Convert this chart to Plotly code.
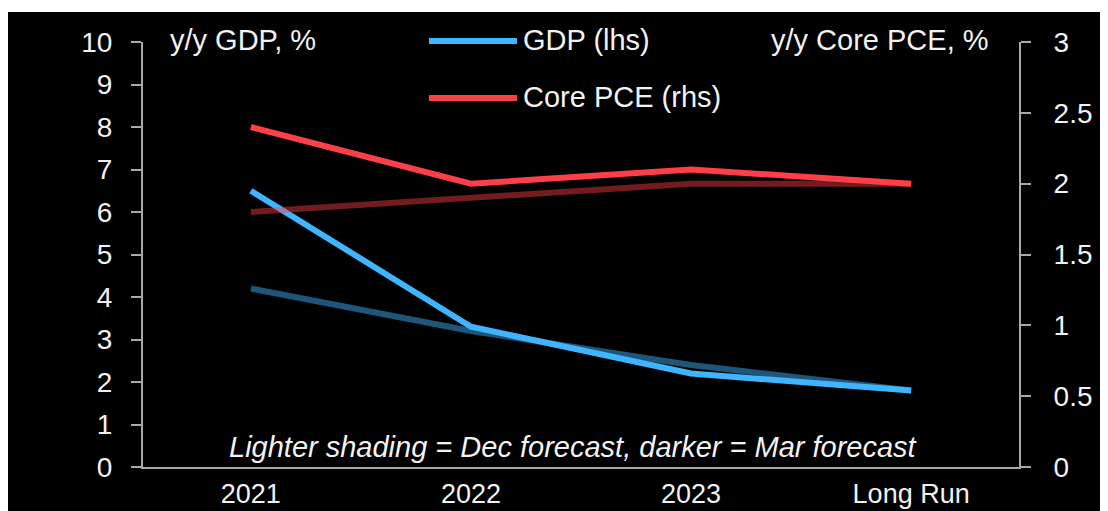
import plotly.graph_objects as go

categories = ["2021", "2022", "2023", "Long Run"]
gdp_mar = [6.5, 3.3, 2.2, 1.8]
gdp_dec = [4.2, 3.2, 2.4, 1.8]
pce_mar = [2.4, 2.0, 2.1, 2.0]
pce_dec = [1.8, 1.9, 2.0, 2.0]

W, H = 1108, 511
OFF = 8  # page body margin: figure starts at (8, 8) in the screenshot
L, R, T, B = 135, 97, 34, 52
PW, PH = W - L - R, H - T - B

def px(xp):
    # screenshot x pixel -> paper x
    return (xp - OFF - L) / PW

def py(yp):
    # screenshot y pixel -> paper y
    return (H - B - (yp - OFF)) / PH

BLUE = "#3fb4ff"
BLUE_DIM = "rgba(63,180,255,0.48)"
RED = "#ff3f47"
RED_DIM = "rgba(255,63,71,0.45)"
FONT = "Liberation Sans, Arial, sans-serif"
TXT = "#f2f2f2"
AX = "#a8a8a8"

fig = go.Figure()
fig.add_trace(go.Scatter(x=categories, y=gdp_dec, mode="lines",
                         line=dict(color=BLUE_DIM, width=6), name="GDP Dec", yaxis="y"))
fig.add_trace(go.Scatter(x=categories, y=gdp_mar, mode="lines",
                         line=dict(color=BLUE, width=6), name="GDP (lhs)", yaxis="y"))
fig.add_trace(go.Scatter(x=categories, y=pce_dec, mode="lines",
                         line=dict(color=RED_DIM, width=6), name="PCE Dec", yaxis="y2"))
fig.add_trace(go.Scatter(x=categories, y=pce_mar, mode="lines",
                         line=dict(color=RED, width=6), name="Core PCE (rhs)", yaxis="y2"))

shapes = [
    # black canvas, leaving a thin white strip at the top
    dict(type="rect", xref="paper", yref="paper", x0=px(0), x1=px(W + 40),
         y0=py(H + 40), y1=py(12), fillcolor="black", line=dict(width=0), layer="below"),
    # legend samples
    dict(type="line", xref="paper", yref="paper", x0=px(429), x1=px(517), y0=py(41), y1=py(41),
         line=dict(color=BLUE, width=6)),
    dict(type="line", xref="paper", yref="paper", x0=px(429), x1=px(517), y0=py(98), y1=py(98),
         line=dict(color=RED, width=6)),
]

annotations = [
    dict(text="y/y GDP, %", x=px(168), y=py(40), xanchor="left", yanchor="middle"),
    dict(text="y/y Core PCE, %", x=px(991), y=py(40), xanchor="right", yanchor="middle"),
    dict(text="GDP (lhs)", x=px(521), y=py(40), xanchor="left", yanchor="middle"),
    dict(text="Core PCE (rhs)", x=px(521), y=py(97), xanchor="left", yanchor="middle"),
    dict(text="<i>Lighter shading = Dec forecast, darker = Mar forecast</i>",
         x=px(573), y=py(447), xanchor="center", yanchor="middle"),
]
for a in annotations:
    a.update(xref="paper", yref="paper", showarrow=False,
             font=dict(family=FONT, size=29, color=TXT))

fig.update_layout(
    width=W, height=H,
    margin=dict(l=L, r=R, t=T, b=B, autoexpand=False),
    paper_bgcolor="white", plot_bgcolor="black",
    showlegend=False,
    shapes=shapes, annotations=annotations,
    xaxis=dict(type="category", range=[-0.49, 3.49], showgrid=False, zeroline=False,
               showline=True, linecolor=AX, linewidth=2, ticks="",
               ticklabelstandoff=2,
               tickfont=dict(family=FONT, size=27, color=TXT)),
    yaxis=dict(range=[0, 10], dtick=1, showgrid=False, zeroline=False,
               showline=True, linecolor=AX, linewidth=2,
               ticks="outside", ticklen=10, tickwidth=2, tickcolor=AX,
               ticklabelstandoff=13,
               tickfont=dict(family=FONT, size=28, color=TXT)),
    yaxis2=dict(range=[0, 3], dtick=0.5, overlaying="y", side="right", showgrid=False,
                zeroline=False, showline=True, linecolor=AX, linewidth=2,
                ticks="outside", ticklen=10, tickwidth=2, tickcolor=AX,
                ticklabelstandoff=17,
                tickfont=dict(family=FONT, size=28, color=TXT)),
)

fig.write_html("out.html")
